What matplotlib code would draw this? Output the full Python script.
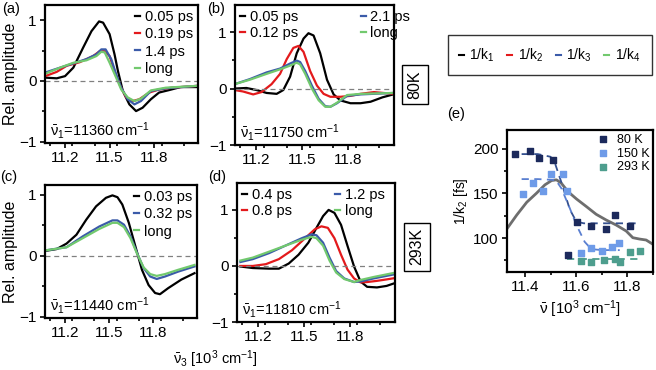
import matplotlib
matplotlib.use("Agg")
import matplotlib.pyplot as plt
import numpy as np
from matplotlib.lines import Line2D
from matplotlib.ticker import MultipleLocator

plt.rcParams['font.family'] = ['Liberation Sans', 'DejaVu Sans']
plt.rcParams['mathtext.fontset'] = 'custom'
plt.rcParams['mathtext.rm'] = 'Liberation Sans'
plt.rcParams['mathtext.it'] = 'Liberation Sans'
plt.rcParams['font.size'] = 10

K_COLORS = ['#000000', '#e31a1c', '#3b5ba9', '#72c96e']

# ---- panel (a): 80K, nu1 = 11360
a_k1_x = [11.067, 11.144, 11.2, 11.256, 11.322, 11.378, 11.429, 11.456, 11.5, 11.533, 11.556, 11.589, 11.633, 11.678, 11.722, 11.778, 11.833, 11.9, 11.978, 12.089]
a_k1_y = [0.055, 0.044, 0.08, 0.22, 0.55, 0.82, 0.98, 0.96, 0.77, 0.44, 0.165, -0.165, -0.385, -0.495, -0.44, -0.30, -0.19, -0.15, -0.10, -0.10]
a_k2_x = [11.067, 11.144, 11.211, 11.3, 11.389, 11.433, 11.467, 11.5, 11.533, 11.567, 11.611, 11.656, 11.7, 11.767, 11.833, 11.922, 12.089]
a_k2_y = [0.08, 0.15, 0.25, 0.31, 0.41, 0.49, 0.49, 0.41, 0.165, -0.055, -0.27, -0.33, -0.30, -0.19, -0.14, -0.11, -0.08]
a_k3_x = [11.067, 11.167, 11.256, 11.344, 11.411, 11.444, 11.473, 11.511, 11.544, 11.578, 11.622, 11.667, 11.711, 11.778, 11.878, 12.089]
a_k3_y = [0.14, 0.22, 0.29, 0.36, 0.44, 0.52, 0.52, 0.36, 0.11, -0.11, -0.30, -0.385, -0.33, -0.165, -0.12, -0.08]
a_k4_x = [11.067, 11.167, 11.256, 11.344, 11.411, 11.444, 11.467, 11.5, 11.544, 11.578, 11.622, 11.667, 11.711, 11.778, 11.878, 12.089]
a_k4_y = [0.12, 0.22, 0.30, 0.34, 0.41, 0.48, 0.47, 0.30, 0.055, -0.14, -0.27, -0.33, -0.29, -0.155, -0.11, -0.08]
a_labels = ['0.05 ps', '0.19 ps', '1.4 ps', 'long']

# ---- panel (b): 80K, nu1 = 11750
b_k1_x = [11.063, 11.139, 11.204, 11.27, 11.335, 11.378, 11.422, 11.465, 11.509, 11.541, 11.574, 11.617, 11.661, 11.704, 11.748, 11.813, 11.878, 11.943, 12.02, 12.09]
b_k1_y = [0.0, 0.01, -0.026, -0.078, -0.094, -0.026, 0.21, 0.625, 0.885, 0.98, 0.94, 0.625, 0.156, -0.104, -0.21, -0.26, -0.26, -0.234, -0.156, -0.104]
b_k2_x = [11.063, 11.117, 11.183, 11.237, 11.302, 11.357, 11.4, 11.443, 11.476, 11.509, 11.552, 11.596, 11.639, 11.683, 11.748, 11.813, 11.878, 11.965, 12.09]
b_k2_y = [-0.026, -0.052, -0.104, -0.0625, 0.078, 0.26, 0.52, 0.72, 0.755, 0.65, 0.31, 0.052, -0.094, -0.146, -0.146, -0.13, -0.094, -0.0625, -0.094]
b_k3_x = [11.063, 11.161, 11.27, 11.357, 11.422, 11.465, 11.487, 11.52, 11.563, 11.607, 11.65, 11.683, 11.726, 11.791, 11.878, 12.09]
b_k3_y = [0.078, 0.167, 0.286, 0.354, 0.443, 0.495, 0.47, 0.31, 0.052, -0.182, -0.3125, -0.323, -0.26, -0.13, -0.104, -0.078]
b_k4_x = [11.063, 11.161, 11.27, 11.357, 11.422, 11.465, 11.487, 11.52, 11.563, 11.607, 11.65, 11.683, 11.726, 11.791, 11.878, 12.09]
b_k4_y = [0.078, 0.156, 0.26, 0.34, 0.406, 0.458, 0.427, 0.26, 0.0, -0.208, -0.323, -0.323, -0.25, -0.115, -0.094, -0.078]
b_labels = ['0.05 ps', '0.12 ps', '2.1 ps', 'long']

# ---- panel (c): 293K, nu1 = 11440
c_k1_x = [11.067, 11.144, 11.211, 11.278, 11.344, 11.411, 11.478, 11.522, 11.556, 11.589, 11.633, 11.678, 11.722, 11.767, 11.811, 11.844, 11.9, 11.989, 12.078]
c_k1_y = [0.08, 0.11, 0.2, 0.345, 0.59, 0.81, 0.95, 0.99, 0.96, 0.84, 0.54, 0.15, -0.23, -0.48, -0.61, -0.63, -0.53, -0.39, -0.285]
c_k3_x = [11.067, 11.211, 11.322, 11.433, 11.522, 11.556, 11.6, 11.644, 11.689, 11.733, 11.778, 11.822, 11.878, 11.967, 12.078]
c_k3_y = [0.088, 0.14, 0.32, 0.48, 0.58, 0.58, 0.51, 0.32, 0.044, -0.2, -0.34, -0.38, -0.34, -0.26, -0.175]
c_k4_x = [11.067, 11.211, 11.322, 11.433, 11.522, 11.556, 11.6, 11.644, 11.689, 11.733, 11.778, 11.822, 11.878, 11.967, 12.078]
c_k4_y = [0.088, 0.14, 0.29, 0.44, 0.54, 0.54, 0.47, 0.29, 0.033, -0.19, -0.30, -0.33, -0.30, -0.23, -0.15]
c_labels = ['0.03 ps', '0.32 ps', 'long']

# ---- panel (d): 293K, nu1 = 11810
d_k1_x = [11.087, 11.168, 11.274, 11.338, 11.402, 11.466, 11.53, 11.583, 11.626, 11.662, 11.7, 11.743, 11.785, 11.828, 11.87, 11.913, 11.977, 12.04, 12.1]
d_k1_y = [-0.01, -0.037, -0.048, -0.048, 0.043, 0.2, 0.415, 0.68, 0.89, 1.0, 0.947, 0.734, 0.36, -0.01, -0.277, -0.372, -0.383, -0.356, -0.30]
d_k2_x = [11.087, 11.168, 11.253, 11.338, 11.423, 11.509, 11.572, 11.615, 11.657, 11.7, 11.743, 11.785, 11.828, 11.87, 11.913, 11.977, 12.04, 12.1]
d_k2_y = [0.0, 0.0, 0.032, 0.122, 0.28, 0.495, 0.654, 0.707, 0.68, 0.495, 0.2, -0.064, -0.223, -0.293, -0.287, -0.266, -0.24, -0.213]
d_k3_x = [11.087, 11.168, 11.274, 11.38, 11.487, 11.551, 11.583, 11.626, 11.668, 11.711, 11.764, 11.828, 11.87, 11.955, 12.1]
d_k3_y = [0.07, 0.122, 0.229, 0.362, 0.495, 0.564, 0.548, 0.415, 0.149, -0.09, -0.223, -0.287, -0.277, -0.223, -0.144]
d_k4_x = [11.087, 11.168, 11.274, 11.38, 11.487, 11.551, 11.583, 11.626, 11.668, 11.711, 11.764, 11.828, 11.87, 11.955, 12.1]
d_k4_y = [0.096, 0.149, 0.255, 0.362, 0.468, 0.52, 0.495, 0.362, 0.096, -0.117, -0.234, -0.287, -0.25, -0.197, -0.117]
d_labels = ['0.4 ps', '0.8 ps', '1.2 ps', 'long']

# ---- panel (e): 1/k2 vs nu
e80_x = [11.361, 11.419, 11.456, 11.510, 11.603, 11.659, 11.715, 11.753, 11.810, 11.568]
e80_y = [194.0, 197.7, 189.5, 186.9, 117.6, 113.9, 110.1, 125.8, 113.9, 80.9]
e150_x = [11.391, 11.430, 11.469, 11.500, 11.549, 11.566, 11.617, 11.659, 11.702, 11.741, 11.769]
e150_y = [149.4, 161.4, 153.1, 171.9, 171.9, 152.8, 82.8, 89.1, 85.4, 90.2, 94.0]
e293_x = [11.620, 11.659, 11.707, 11.750, 11.772, 11.810, 11.849]
e293_y = [74.2, 72.7, 74.9, 76.4, 72.7, 83.9, 85.4]
fit80_x = [11.387, 11.45, 11.50, 11.517, 11.545, 11.575, 11.601, 11.63, 11.70, 11.84]
fit80_y = [194.0, 194.0, 191.0, 183.9, 160.0, 132.0, 118.3, 116.5, 116.5, 116.5]
fit150_x = [11.387, 11.45, 11.52, 11.542, 11.575, 11.601, 11.633, 11.659, 11.70, 11.77]
fit150_y = [166.0, 166.0, 165.0, 155.8, 133.4, 114.6, 95.8, 87.6, 86.5, 86.5]
fit293_x = [11.566, 11.70, 11.853]
fit293_y = [77.0, 77.0, 77.0]
gray_x = [11.331, 11.368, 11.407, 11.445, 11.478, 11.504, 11.523, 11.542, 11.568, 11.601, 11.640, 11.678, 11.717, 11.756, 11.795, 11.821, 11.847, 11.873, 11.898]
gray_y = [110.9, 125.8, 140.1, 150.2, 159.6, 164.4, 165.2, 161.4, 152.0, 143.8, 135.2, 126.6, 120.2, 114.6, 107.9, 100.4, 98.9, 97.8, 93.3]


def spectrum_panel(ax, curves, colors, labels, ylim, note, ncol, colspace=1.0):
    for (x, y), c, lab in zip(curves, colors, labels):
        ax.plot(x, y, color=c, lw=1.6, label=lab)
    ax.axhline(0, color='gray', ls='--', lw=0.9, dashes=(4, 3))
    ax.set_xlim(11.065, 12.095)
    ax.set_ylim(*ylim)
    ax.set_xticks([11.2, 11.5, 11.8])
    ax.xaxis.set_minor_locator(MultipleLocator(0.15))
    ax.set_yticks([-1, 0, 1])
    ax.yaxis.set_minor_locator(MultipleLocator(0.5))
    ax.tick_params(which='both', direction='out', width=1.2, labelsize=11, pad=2.5)
    ax.tick_params(which='major', length=3.5)
    ax.tick_params(which='minor', length=2)
    for s in ax.spines.values():
        s.set_linewidth(1.6)
    ax.text(0.03, 0.015, note, transform=ax.transAxes, fontsize=10.5, ha='left', va='bottom')
    if ncol == 1:
        ax.legend(loc='upper right', frameon=False, fontsize=10.5,
                  handlelength=0.35, handletextpad=0.3, labelspacing=0.22,
                  borderaxespad=0.15, borderpad=0.2)
    else:
        ax.legend(loc='upper left', ncol=2, frameon=False, fontsize=10.5,
                  handlelength=0.35, handletextpad=0.3, labelspacing=0.15,
                  columnspacing=colspace, borderaxespad=0.15, borderpad=0.2)


fig = plt.figure(figsize=(6.56, 3.70), dpi=100)

ax_a = fig.add_axes([0.0686, 0.6135, 0.2332, 0.373])
ax_b = fig.add_axes([0.3582, 0.6081, 0.2424, 0.3784])
ax_c = fig.add_axes([0.0686, 0.1405, 0.2317, 0.3595])
ax_d = fig.add_axes([0.3613, 0.1297, 0.2409, 0.3757])
ax_e = fig.add_axes([0.7729, 0.2649, 0.2226, 0.3838])

spectrum_panel(ax_a, [(a_k1_x, a_k1_y), (a_k2_x, a_k2_y), (a_k3_x, a_k3_y), (a_k4_x, a_k4_y)],
               K_COLORS, a_labels, (-1.02, 1.25), r'$\bar{\mathrm{\nu}}_1$=11360 cm$^{-1}$', 1)
spectrum_panel(ax_b, [(b_k1_x, b_k1_y), (b_k2_x, b_k2_y), (b_k3_x, b_k3_y), (b_k4_x, b_k4_y)],
               K_COLORS, b_labels, (-0.70, 1.48), r'$\bar{\mathrm{\nu}}_1$=11750 cm$^{-1}$', 2, 4.3)
spectrum_panel(ax_c, [(c_k1_x, c_k1_y), (c_k3_x, c_k3_y), (c_k4_x, c_k4_y)],
               [K_COLORS[0], K_COLORS[2], K_COLORS[3]], c_labels, (-1.02, 1.16),
               r'$\bar{\mathrm{\nu}}_1$=11440 cm$^{-1}$', 1)
spectrum_panel(ax_d, [(d_k1_x, d_k1_y), (d_k2_x, d_k2_y), (d_k3_x, d_k3_y), (d_k4_x, d_k4_y)],
               K_COLORS, d_labels, (-0.73, 1.48), r'$\bar{\mathrm{\nu}}_1$=11810 cm$^{-1}$', 2, 3.0)

ax_a.set_ylabel('Rel. amplitude', fontsize=11.5, labelpad=1)
ax_c.set_ylabel('Rel. amplitude', fontsize=11.5, labelpad=1)

# panel (e)
ax_e.plot(gray_x, gray_y, color='#6e6e6e', lw=2)
ax_e.plot(fit80_x, fit80_y, color='#34508f', lw=1.3, ls='--', dashes=(4, 3))
ax_e.plot(fit150_x, fit150_y, color='#5a7fd0', lw=1.3, ls='--', dashes=(4, 3))
ax_e.plot(fit293_x, fit293_y, color='#4e9e8e', lw=1.3, ls='--', dashes=(4, 3))
ax_e.scatter(e80_x, e80_y, marker='s', s=24, color='#1c2a5c', label='80 K', zorder=3)
ax_e.scatter(e150_x, e150_y, marker='s', s=24, color='#6e9be8', label='150 K', zorder=3)
ax_e.scatter(e293_x, e293_y, marker='s', s=24, color='#4e9e8e', label='293 K', zorder=3)
ax_e.set_xlim(11.33, 11.90)
ax_e.set_ylim(62, 221)
ax_e.set_xticks([11.4, 11.6, 11.8])
ax_e.xaxis.set_minor_locator(MultipleLocator(0.1))
ax_e.set_yticks([100, 150, 200])
ax_e.yaxis.set_minor_locator(MultipleLocator(25))
ax_e.tick_params(which='both', direction='out', width=1.2, labelsize=11, pad=2.5)
ax_e.tick_params(which='major', length=3.5)
ax_e.tick_params(which='minor', length=2)
for s in ax_e.spines.values():
    s.set_linewidth(1.6)
ax_e.set_ylabel(r'1/k$_2$ [fs]', fontsize=10, labelpad=2)
ax_e.set_xlabel(r'$\bar{\mathrm{\nu}}$ [10$^3$ cm$^{-1}$]', fontsize=11, labelpad=3)
ax_e.legend(loc='upper right', frameon=False, fontsize=9, handletextpad=0.1,
            labelspacing=0.15, borderaxespad=0.1, borderpad=0.2, markerscale=0.9)

# panel labels
fig.text(0.003, 0.995, '(a)', fontsize=10.5, va='top')
fig.text(0.315, 0.995, '(b)', fontsize=10.5, va='top')
fig.text(0.0, 0.54, '(c)', fontsize=10.5, va='top')
fig.text(0.318, 0.54, '(d)', fontsize=10.5, va='top')
fig.text(0.682, 0.71, '(e)', fontsize=10.5, va='top')

# common x label
fig.text(0.329, 0.03, r'$\bar{\mathrm{\nu}}_3$ [10$^3$ cm$^{-1}$]', fontsize=10.5, ha='center', va='center')

# temperature boxes
box = dict(boxstyle='square,pad=0.35', fc='white', ec='black', lw=1)
fig.text(0.633, 0.772, '80K', rotation=90, fontsize=11.5, ha='center', va='center', bbox=box)
fig.text(0.636, 0.333, '293K', rotation=90, fontsize=11.5, ha='center', va='center', bbox=box)

# rate-constant key
handles = [Line2D([], [], color=c, lw=1.5) for c in K_COLORS]
key_labels = [r'1/k$_1$', r'1/k$_2$', r'1/k$_3$', r'1/k$_4$']
leg = fig.legend(handles, key_labels, loc='center', bbox_to_anchor=(0.838, 0.851), ncol=4,
                 frameon=True, fancybox=False, edgecolor='black', fontsize=10,
                 handlelength=0.35, handletextpad=0.4, columnspacing=0.9, borderpad=0.8)
leg.get_frame().set_linewidth(1.0)

fig.savefig('out.png', dpi=100)
